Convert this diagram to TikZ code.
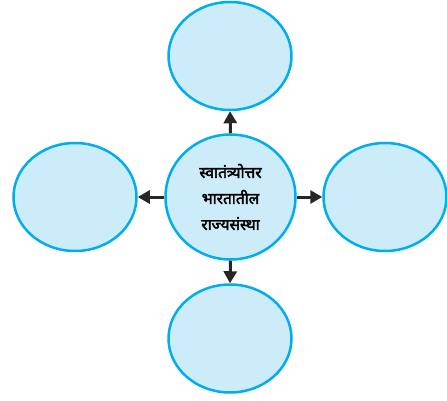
\documentclass[tikz,border=0pt]{standalone}
\usepackage{fontspec}
\newfontfamily\deva[Script=Devanagari,AutoFakeBold=2.5]{Noto Sans}
\usetikzlibrary{shapes.geometric,arrows.meta}
\definecolor{ringblue}{RGB}{0,174,239}
\definecolor{paleblue}{RGB}{204,236,250}

\begin{document}
\begin{tikzpicture}[x=1pt, y=-1pt,
    bubble/.style={ellipse, draw=ringblue, fill=paleblue, line width=2.5pt,
                   minimum width=123pt, minimum height=108pt, inner sep=0pt},
    link/.style={line width=3pt, draw=black!85, -{Triangle[length=12pt,width=13pt]}}]
    \useasboundingbox (0,0) rectangle (447,401);

    % Centre
    \node[bubble, minimum width=130pt, minimum height=125pt, align=center,
          font=\deva\bfseries\fontsize{15.5}{26}\selectfont] (state) at (230.5,197)
        {स्वातंत्र्योत्तर\\भारतातील\\राज्यसंस्था};

    % Outer bubbles
    \node[bubble] (top) at (230,56) {};
    \node[bubble] (left) at (75,197) {};
    \node[bubble] (right) at (385,197) {};
    \node[bubble] (bottom) at (230,338.5) {};

    % Arrows
    \draw[link] (state.north) -- (top.south);
    \draw[link] (state.west) -- (left.east);
    \draw[link] (state.east) -- (right.west);
    \draw[link] (state.south) -- (bottom.north);
\end{tikzpicture}
\end{document}
